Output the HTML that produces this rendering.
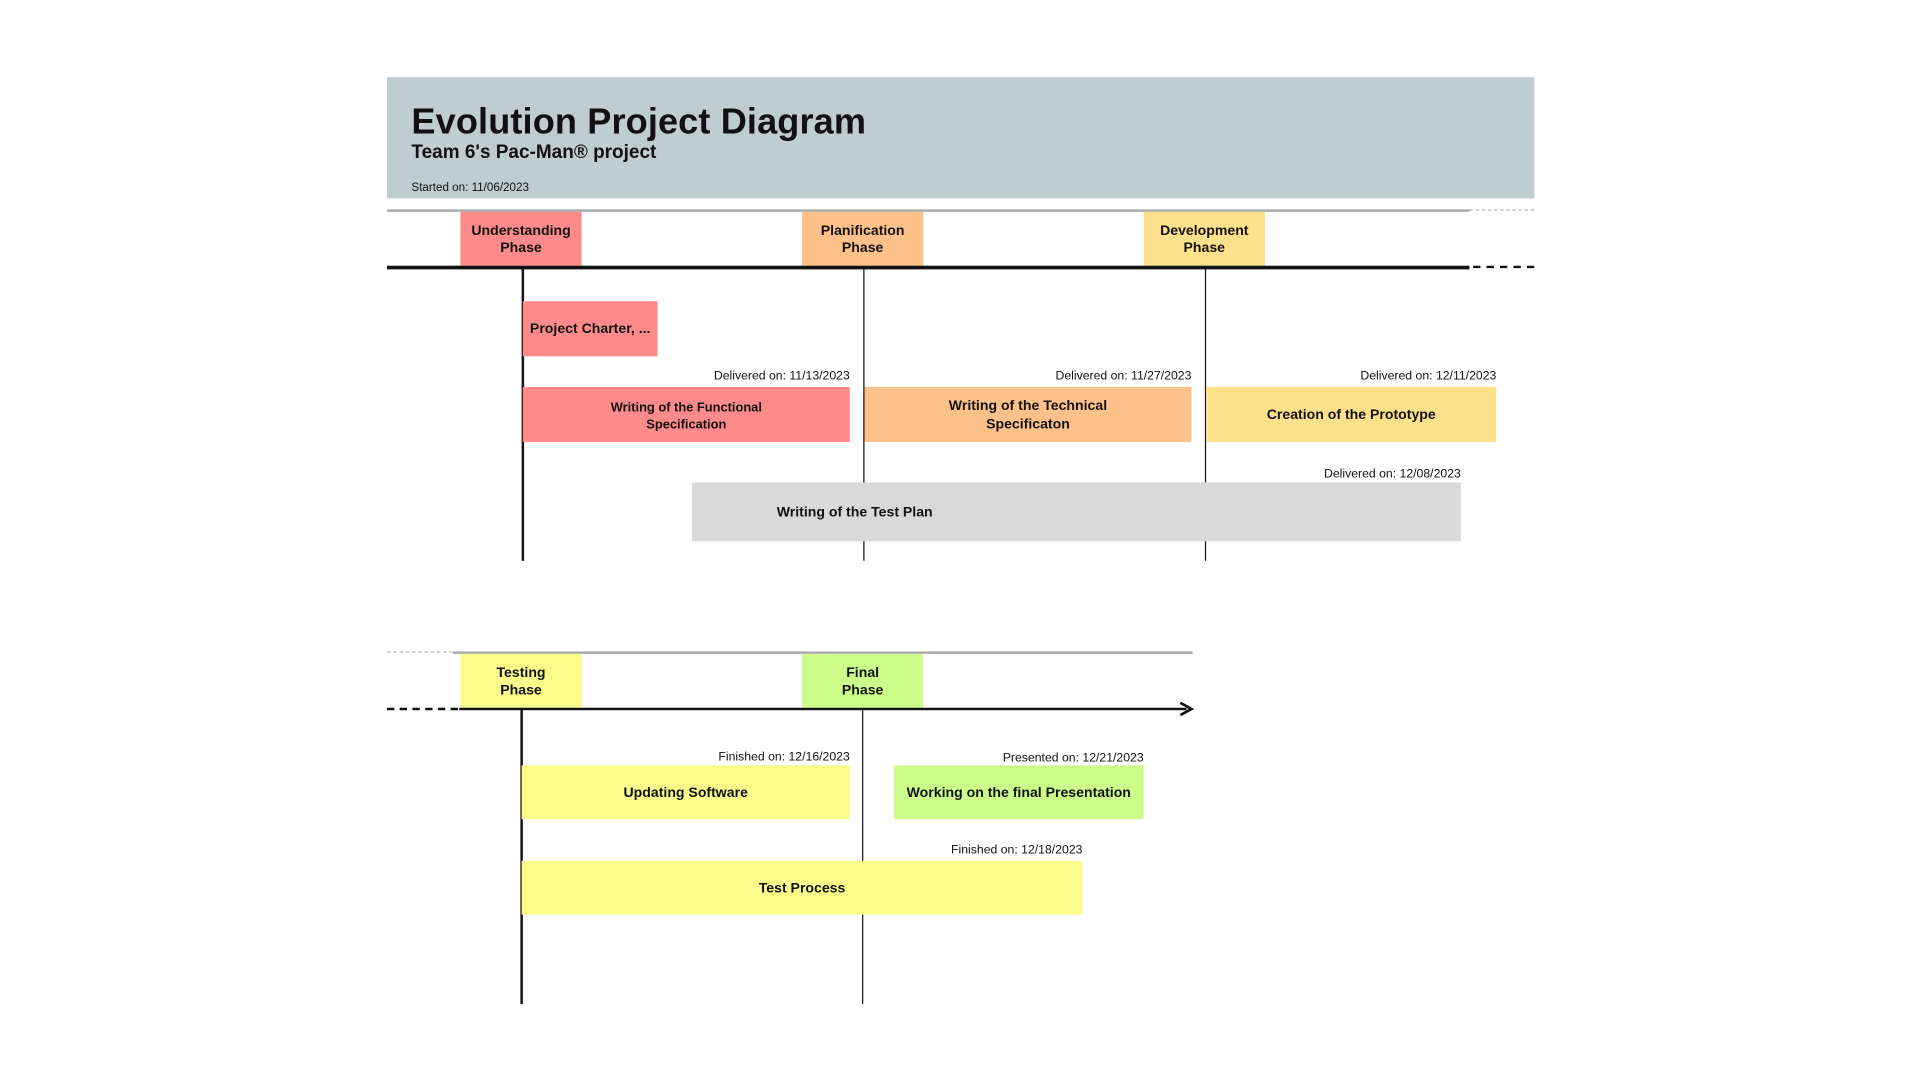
<!DOCTYPE html>
<html><head><meta charset="utf-8"><style>
html,body{margin:0;padding:0;background:#fff;width:1920px;height:1080px;overflow:hidden}
#w{position:absolute;left:0;top:0;width:1568px;height:882px;transform:scale(1.22449);transform-origin:0 0;font-family:"Liberation Sans",sans-serif;color:#111}
.a{position:absolute}
.b{position:absolute;display:flex;align-items:center;justify-content:center;text-align:center;font-weight:bold;font-size:11.5px;line-height:14.5px;padding-top:2px;box-sizing:border-box}
.l{position:absolute;font-size:10px;text-align:right;white-space:nowrap}
.v{position:absolute;width:1.5px;background:#111}
</style></head><body><div id="w">
<div class="a" style="left:316px;top:63px;width:937px;height:99px;background:#bfcdce"></div>
<div class="a" style="left:336px;top:83px;font-size:29.5px;font-weight:bold;letter-spacing:0.1px">Evolution Project Diagram</div>
<div class="a" style="left:336px;top:116px;font-size:15.5px;font-weight:bold">Team 6's Pac-Man® project</div>
<div class="a" style="left:336px;top:148px;font-size:9.5px">Started on: 11/06/2023</div>

<div class="a" style="left:316px;top:171px;width:884px;height:1.5px;background:#aaa"></div>
<div class="a" style="left:1200px;top:171px;width:53px;border-top:1.5px dashed #bbb"></div>
<div class="b" style="left:376px;top:173px;width:99px;height:44px;background:#fe8a8a">Understanding<br>Phase</div>
<div class="b" style="left:655px;top:173px;width:99px;height:44px;background:#fec18a">Planification<br>Phase</div>
<div class="b" style="left:934px;top:173px;width:99px;height:44px;background:#fde08a">Development<br>Phase</div>
<div class="a" style="left:316px;top:217px;width:884px;height:2.5px;background:#111"></div>
<div class="a" style="left:1203px;top:217px;width:50px;border-top:2.5px dashed #111"></div>
<div class="v" style="left:426px;top:218px;height:240px"></div>
<div class="v" style="left:704.5px;top:218px;height:240px"></div>
<div class="v" style="left:983.5px;top:218px;height:240px"></div>

<div class="b" style="left:427px;top:246px;width:110px;height:45px;background:#fe8a8a">Project Charter, ...</div>
<div class="l" style="right:874px;top:302px">Delivered on: 11/13/2023</div>
<div class="l" style="right:595px;top:302px">Delivered on: 11/27/2023</div>
<div class="l" style="right:346px;top:302px">Delivered on: 12/11/2023</div>
<div class="b" style="left:427px;top:316px;width:267px;height:45px;background:#fe8a8a;font-size:10.5px;line-height:14px">Writing of the Functional<br>Specification</div>
<div class="b" style="left:706px;top:316px;width:267px;height:45px;background:#fec18a">Writing of the Technical<br>Specificaton</div>
<div class="b" style="left:985px;top:316px;width:237px;height:45px;background:#fde08a">Creation of the Prototype</div>
<div class="l" style="right:375px;top:382px">Delivered on: 12/08/2023</div>
<div class="a" style="left:565px;top:394px;width:628px;height:48px;background:#d9d9d9"></div>
<div class="b" style="left:598px;top:394px;width:200px;height:48px">Writing of the Test Plan</div>

<div class="a" style="left:316px;top:532px;width:54px;border-top:1.5px dashed #bbb"></div>
<div class="a" style="left:370px;top:532px;width:604px;height:1.5px;background:#aaa"></div>
<div class="b" style="left:376px;top:534px;width:99px;height:44px;background:#fafc8a">Testing<br>Phase</div>
<div class="b" style="left:655px;top:534px;width:99px;height:44px;background:#ccfd8a">Final<br>Phase</div>
<div class="a" style="left:316px;top:577.5px;width:58px;border-top:2.5px dashed #111"></div>
<div class="a" style="left:375px;top:577.5px;width:594px;height:2.5px;background:#111"></div>
<svg class="a" style="left:962px;top:573px" width="14" height="12"><path d="M2 1 L11 6 L2 11" fill="none" stroke="#111" stroke-width="2.2"/></svg>
<div class="v" style="left:425px;top:579px;height:241px"></div>
<div class="v" style="left:703.5px;top:579px;height:241px"></div>

<div class="l" style="right:874px;top:613px">Finished on: 12/16/2023</div>
<div class="l" style="right:634px;top:614px">Presented on: 12/21/2023</div>
<div class="b" style="left:426px;top:625px;width:268px;height:44px;background:#fafc8a">Updating Software</div>
<div class="b" style="left:730px;top:625px;width:204px;height:44px;background:#ccfd8a">Working on the final Presentation</div>
<div class="l" style="right:684px;top:689px">Finished on: 12/18/2023</div>
<div class="b" style="left:426px;top:703px;width:458px;height:44px;background:#fafc8a">Test Process</div>
</div></body></html>
